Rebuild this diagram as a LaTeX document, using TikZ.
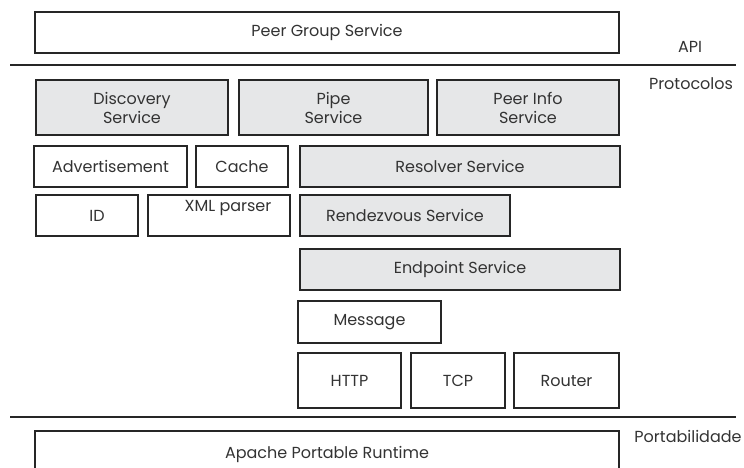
\documentclass[tikz,border=0pt]{standalone}
\usepackage{fontspec}
\setmainfont{Poppins}
\definecolor{ink}{HTML}{262626}
\definecolor{txt}{HTML}{333333}
\definecolor{svc}{HTML}{E6E7E8}
\begin{document}
\begin{tikzpicture}[x=1pt,y=-1pt,
  layer/.style={draw=ink,line width=1.8pt,rectangle,inner sep=0pt,
    text=txt,font=\fontsize{16}{19}\selectfont,align=center},
  plain/.style={layer,fill=white},
  shaded/.style={layer,fill=svc},
  tag/.style={text=txt,font=\fontsize{16}{19}\selectfont,inner sep=0pt},
  sep/.style={draw=ink,line width=1.8pt}]
\useasboundingbox (0,0) rectangle (744,468);

% API layer
\node[plain,minimum width=584pt,minimum height=41pt] (pgs) at (327,32.5) {Peer Group Service};
\node[tag] (api) at (690,47) {API};

% separator API / protocols
\coordinate (s1l) at (10,65);
\coordinate (s1r) at (736,65);
\draw[sep] (s1l) -- (s1r);
\node[tag] (proto) at (691,84) {Protocolos};

% protocol services
\node[shaded,minimum width=192pt,minimum height=55pt] (disc) at (132,107.5) {Discovery\\Service};
\node[shaded,minimum width=189pt,minimum height=55pt] (pipe) at (333.5,107.5) {Pipe\\Service};
\node[shaded,minimum width=182pt,minimum height=55pt] (pinfo) at (528,107.5) {Peer Info\\Service};

\node[plain,minimum width=153pt,minimum height=41pt] (adv) at (110.5,166.5) {Advertisement};
\node[plain,minimum width=92pt,minimum height=41pt] (cache) at (242,166.5) {Cache};
\node[shaded,minimum width=320pt,minimum height=41pt] (resolver) at (460,166.5) {Resolver Service};

\node[plain,minimum width=102pt,minimum height=41pt] (id) at (87,215.5) {};
\node[tag] at (97,215.5) {ID};
\node[plain,minimum width=142pt,minimum height=41pt] (xml) at (219,215.5) {};
\node[tag] at (228,208) {XML parser};
\node[shaded,minimum width=210pt,minimum height=41pt] (rdv) at (405,215.5) {Rendezvous Service};

\node[shaded,minimum width=320pt,minimum height=41pt] (endp) at (460,269.5) {Endpoint Service};
\node[plain,minimum width=143pt,minimum height=42pt] (msg) at (369.5,322) {Message};

\node[plain,minimum width=103pt,minimum height=55pt] (http) at (349.5,380.5) {HTTP};
\node[plain,minimum width=94pt,minimum height=55pt] (tcp) at (458,380.5) {TCP};
\node[plain,minimum width=105pt,minimum height=55pt] (router) at (566.5,380.5) {Router};

% separator protocols / portability
\coordinate (s2l) at (10,417);
\coordinate (s2r) at (736,417);
\draw[sep] (s2l) -- (s2r);
\node[tag] (port) at (688,436) {Portabilidade};

% portability layer, running off the bottom edge
\node[minimum width=584pt,minimum height=37pt,inner sep=0pt] (apr) at (327,449.5) {};
\draw[sep] (apr.south west) |- (apr.north east) -- (apr.south east);
\node[tag] (aprtxt) at (327,454) {Apache Portable Runtime};
\end{tikzpicture}
\end{document}
